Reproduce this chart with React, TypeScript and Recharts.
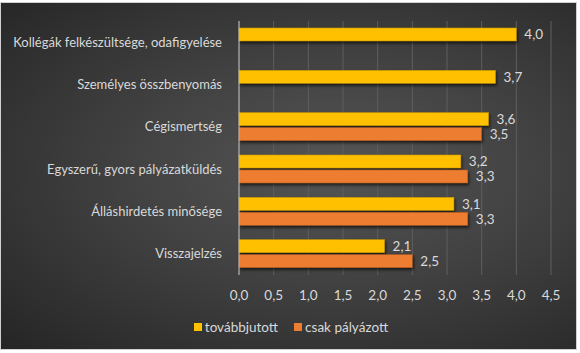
import { BarChart, Bar, XAxis, YAxis, CartesianGrid, LabelList } from 'recharts';

const categories = [
  'Kollégák felkészültsége, odafigyelése',
  'Személyes összbenyomás',
  'Cégismertség',
  'Egyszerű, gyors pályázatküldés',
  'Álláshirdetés minősége',
  'Visszajelzés',
];
const tovabbjutott = [4.0, 3.7, 3.6, 3.2, 3.1, 2.1];
const csakPalyazott = [null, null, 3.5, 3.3, 3.3, 2.5];
const xTicks = [0, 0.5, 1, 1.5, 2, 2.5, 3, 3.5, 4, 4.5];

const YELLOW = '#FFC000';
const ORANGE = '#ED7D31';
const TEXT = '#d9d9d9';
const FONT = 'Lato, "Open Sans", sans-serif';

const data = categories.map((name, i) => ({
  name,
  tovabbjutott: tovabbjutott[i],
  csak: csakPalyazott[i],
}));

const fmt = (v: any) => (v == null ? '' : Number(v).toFixed(1).replace('.', ','));

const ShadowBar = (props: any) => {
  const { x, y, width, height, fill, stroke } = props;
  if (!width || width <= 0) return null;
  return (
    <rect
      x={x}
      y={y}
      width={width}
      height={height}
      fill={fill}
      stroke={stroke}
      strokeWidth={0.6}
      style={{ filter: 'drop-shadow(1px 2px 1.5px rgba(0,0,0,0.65))' }}
    />
  );
};

const CatTick = (props: any) => {
  const { x, y, payload } = props;
  return (
    <text x={x} y={y} dy="0.35em" textAnchor="end" fill={TEXT} fontSize={13} fontFamily={FONT}>
      {payload.value}
    </text>
  );
};

const LegendBox = () => (
  <div
    style={{
      position: 'absolute',
      left: 2,
      width: 576,
      top: 316,
      display: 'flex',
      justifyContent: 'center',
      fontFamily: FONT,
      fontSize: 13.5,
      color: TEXT,
    }}
  >
    <span style={{ display: 'flex', alignItems: 'center', marginRight: 16 }}>
      <span style={{ width: 8, height: 8, background: YELLOW, marginRight: 3, display: 'inline-block' }} />
      továbbjutott
    </span>
    <span style={{ display: 'flex', alignItems: 'center' }}>
      <span style={{ width: 8, height: 8, background: ORANGE, marginRight: 3, display: 'inline-block' }} />
      csak pályázott
    </span>
  </div>
);

export default function App() {
  return (
    <div
      style={{
        position: 'fixed',
        left: 0,
        top: 0,
        width: 580,
        height: 353,
        background: '#fff',
      }}
    >
      <div
        style={{
          position: 'absolute',
          left: 0,
          top: 2,
          width: 577,
          height: 348,
          border: '1px solid #d0d0d0',
          boxSizing: 'border-box',
          background: 'radial-gradient(ellipse at 58% 48%, #555555 0%, #414141 45%, #252525 100%)',
        }}
      >
        <BarChart
          width={575}
          height={346}
          data={data}
          layout="vertical"
          margin={{ top: 18, right: 25, bottom: 44, left: 0 }}
          barSize={13}
          barGap={2}
          style={{ fontFamily: FONT }}
        >
          <CartesianGrid horizontal={false} stroke="#5e5e5e" strokeWidth={1} />
          <XAxis
            type="number"
            domain={[0, 4.5]}
            ticks={xTicks}
            tickFormatter={fmt}
            axisLine={false}
            tickLine={false}
            tickMargin={9}
            height={30}
            tick={{ fill: TEXT, fontSize: 13.5 }}
          />
          <YAxis
            type="category"
            dataKey="name"
            width={238}
            axisLine={{ stroke: '#bfbfbf' }}
            tickLine={false}
            tickMargin={11}
            tick={<CatTick />}
            interval={0}
          />
          <Bar dataKey="tovabbjutott" fill={YELLOW} stroke="#c99700" shape={<ShadowBar />} isAnimationActive={false}>
            <LabelList dataKey="tovabbjutott" position="right" offset={8} fill={TEXT} fontSize={13.5} formatter={fmt} />
          </Bar>
          <Bar dataKey="csak" fill={ORANGE} stroke="#b85c1f" shape={<ShadowBar />} isAnimationActive={false}>
            <LabelList dataKey="csak" position="right" offset={8} fill={TEXT} fontSize={13.5} formatter={fmt} />
          </Bar>
        </BarChart>
        <LegendBox />
      </div>
    </div>
  );
}
